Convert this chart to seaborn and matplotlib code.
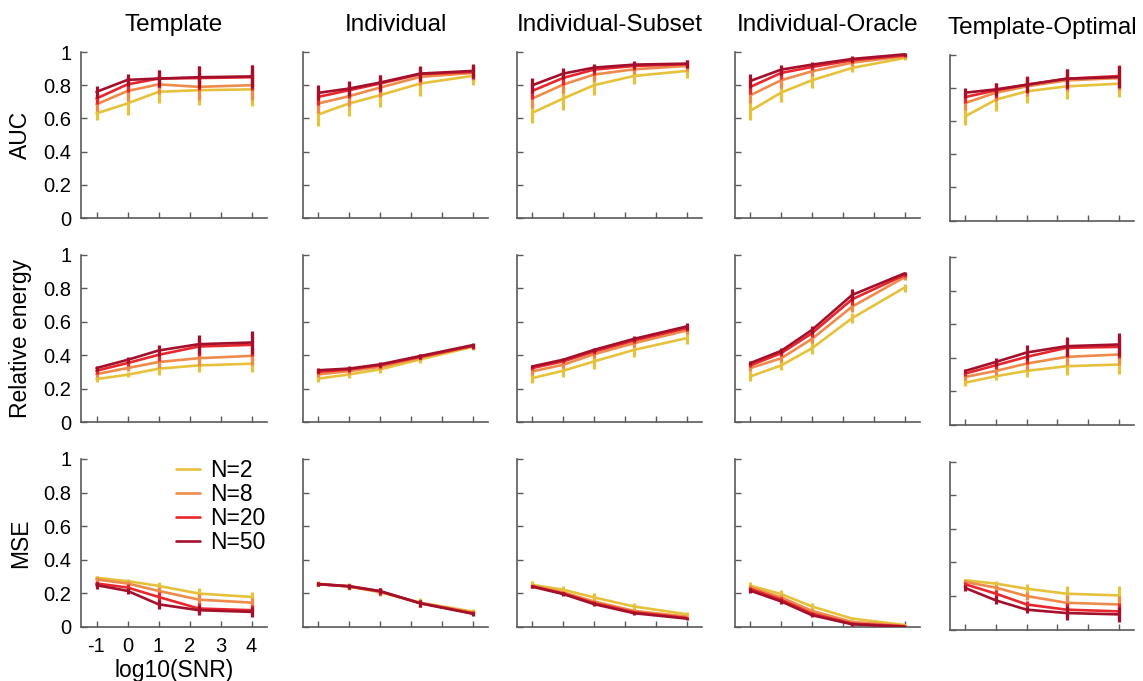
import matplotlib
matplotlib.use("Agg")
import matplotlib.pyplot as plt
import numpy as np
import pandas as pd
import seaborn as sns

# ---------------- data ----------------
SNR_LOG = [-1, 0, 1, 2.3, 4]
N_LABELS = ["N=2", "N=8", "N=20", "N=50"]
METHODS = ["Template", "Individual", "Individual-Subset", "Individual-Oracle", "Template-Optimal"]
METRICS = ["AUC", "Relative energy", "MSE"]
X_TICKS = [-1, 0, 1, 2, 3, 4]
Y_TICKS = [0, 0.2, 0.4, 0.6, 0.8, 1]
Y_TICK_LABELS = ["0", "0.2", "0.4", "0.6", "0.8", "1"]
COLORS = ["#E6C23C", "#EE8A4A", "#E8262E", "#A3102C"]

# AUC  (rows: N=2, N=8, N=20, N=50)
AUC_TEMPLATE = [[0.630, 0.690, 0.760, 0.770, 0.775],
                [0.685, 0.765, 0.805, 0.790, 0.800],
                [0.720, 0.805, 0.840, 0.843, 0.848],
                [0.760, 0.832, 0.840, 0.848, 0.853]]
AUC_TEMPLATE_ERR = [[0.040, 0.070, 0.070, 0.090, 0.100],
                    [0.040, 0.060, 0.060, 0.080, 0.090],
                    [0.035, 0.045, 0.050, 0.070, 0.075],
                    [0.035, 0.035, 0.050, 0.065, 0.070]]
AUC_INDIV = [[0.624, 0.690, 0.740, 0.810, 0.856],
             [0.690, 0.734, 0.786, 0.850, 0.874],
             [0.730, 0.770, 0.810, 0.866, 0.880],
             [0.754, 0.780, 0.816, 0.870, 0.886]]
AUC_INDIV_ERR = [[0.068, 0.076, 0.070, 0.074, 0.052],
                 [0.060, 0.060, 0.060, 0.050, 0.045],
                 [0.050, 0.050, 0.050, 0.045, 0.042],
                 [0.046, 0.044, 0.048, 0.046, 0.042]]
AUC_SUBSET = [[0.634, 0.720, 0.800, 0.856, 0.886],
              [0.720, 0.804, 0.864, 0.896, 0.916],
              [0.766, 0.844, 0.894, 0.916, 0.926],
              [0.800, 0.870, 0.906, 0.924, 0.930]]
AUC_SUBSET_ERR = [[0.064, 0.070, 0.060, 0.050, 0.040],
                  [0.055, 0.050, 0.040, 0.030, 0.030],
                  [0.050, 0.040, 0.030, 0.025, 0.025],
                  [0.044, 0.034, 0.024, 0.022, 0.024]]
AUC_ORACLE = [[0.646, 0.756, 0.830, 0.904, 0.964],
              [0.740, 0.830, 0.884, 0.936, 0.974],
              [0.790, 0.874, 0.910, 0.950, 0.980],
              [0.826, 0.894, 0.924, 0.958, 0.986]]
AUC_ORACLE_ERR = [[0.056, 0.060, 0.044, 0.024, 0.010],
                  [0.050, 0.045, 0.030, 0.020, 0.010],
                  [0.045, 0.035, 0.020, 0.018, 0.010],
                  [0.040, 0.030, 0.016, 0.018, 0.010]]
AUC_OPTIMAL = [[0.628, 0.728, 0.778, 0.808, 0.824],
               [0.708, 0.770, 0.808, 0.844, 0.858],
               [0.744, 0.784, 0.818, 0.854, 0.870],
               [0.770, 0.790, 0.818, 0.854, 0.864]]
AUC_OPTIMAL_ERR = [[0.050, 0.068, 0.070, 0.078, 0.080],
                   [0.040, 0.050, 0.055, 0.065, 0.070],
                   [0.035, 0.045, 0.050, 0.060, 0.068],
                   [0.030, 0.040, 0.046, 0.056, 0.064]]

# Relative energy
RE_TEMPLATE = [[0.257, 0.283, 0.319, 0.339, 0.349],
               [0.287, 0.323, 0.359, 0.382, 0.396],
               [0.307, 0.353, 0.402, 0.452, 0.462],
               [0.323, 0.372, 0.428, 0.466, 0.476]]
RE_TEMPLATE_ERR = [[0.020, 0.016, 0.035, 0.040, 0.050],
                   [0.020, 0.020, 0.035, 0.045, 0.055],
                   [0.018, 0.020, 0.035, 0.055, 0.065],
                   [0.015, 0.020, 0.035, 0.056, 0.066]]
RE_INDIV = [[0.260, 0.285, 0.315, 0.375, 0.450],
            [0.285, 0.305, 0.330, 0.385, 0.455],
            [0.300, 0.315, 0.340, 0.390, 0.455],
            [0.310, 0.320, 0.345, 0.395, 0.460]]
RE_INDIV_ERR = [[0.020, 0.020, 0.020, 0.020, 0.020],
                [0.015, 0.015, 0.015, 0.015, 0.015],
                [0.015, 0.015, 0.015, 0.015, 0.015],
                [0.015, 0.015, 0.015, 0.015, 0.015]]
RE_SUBSET = [[0.263, 0.307, 0.363, 0.432, 0.502],
             [0.303, 0.343, 0.406, 0.472, 0.548],
             [0.323, 0.363, 0.422, 0.488, 0.562],
             [0.333, 0.373, 0.432, 0.498, 0.572]]
RE_SUBSET_ERR = [[0.030, 0.038, 0.046, 0.044, 0.036],
                 [0.020, 0.020, 0.020, 0.020, 0.020],
                 [0.012, 0.012, 0.012, 0.016, 0.020],
                 [0.010, 0.010, 0.010, 0.014, 0.020]]
RE_ORACLE = [[0.273, 0.339, 0.442, 0.622, 0.805],
             [0.323, 0.382, 0.498, 0.691, 0.867],
             [0.339, 0.412, 0.532, 0.735, 0.880],
             [0.353, 0.426, 0.552, 0.761, 0.890]]
RE_ORACLE_ERR = [[0.030, 0.030, 0.036, 0.030, 0.024],
                 [0.020, 0.020, 0.025, 0.030, 0.015],
                 [0.012, 0.016, 0.024, 0.035, 0.012],
                 [0.010, 0.016, 0.024, 0.036, 0.010]]
RE_OPTIMAL = [[0.251, 0.289, 0.321, 0.349, 0.359],
              [0.285, 0.321, 0.365, 0.405, 0.419],
              [0.305, 0.355, 0.405, 0.459, 0.465],
              [0.321, 0.375, 0.431, 0.469, 0.479]]
RE_OPTIMAL_ERR = [[0.020, 0.024, 0.036, 0.050, 0.058],
                  [0.018, 0.025, 0.040, 0.050, 0.060],
                  [0.015, 0.025, 0.042, 0.055, 0.065],
                  [0.014, 0.026, 0.044, 0.056, 0.066]]

# MSE
MSE_TEMPLATE = [[0.293, 0.273, 0.245, 0.199, 0.179],
                [0.283, 0.259, 0.215, 0.163, 0.145],
                [0.259, 0.235, 0.179, 0.110, 0.100],
                [0.249, 0.215, 0.135, 0.100, 0.090]]
MSE_TEMPLATE_ERR = [[0.012, 0.012, 0.024, 0.034, 0.030],
                    [0.012, 0.015, 0.025, 0.032, 0.030],
                    [0.015, 0.018, 0.028, 0.030, 0.030],
                    [0.020, 0.020, 0.026, 0.030, 0.030]]
MSE_INDIV = [[0.257, 0.240, 0.207, 0.145, 0.092],
             [0.256, 0.241, 0.210, 0.143, 0.086],
             [0.255, 0.242, 0.212, 0.142, 0.082],
             [0.255, 0.243, 0.214, 0.141, 0.079]]
MSE_INDIV_ERR = [[0.015, 0.020, 0.025, 0.025, 0.015],
                 [0.012, 0.015, 0.020, 0.020, 0.012],
                 [0.012, 0.015, 0.020, 0.020, 0.012],
                 [0.012, 0.015, 0.020, 0.020, 0.012]]
MSE_SUBSET = [[0.251, 0.222, 0.176, 0.122, 0.076],
              [0.246, 0.206, 0.152, 0.096, 0.062],
              [0.242, 0.200, 0.142, 0.088, 0.054],
              [0.240, 0.196, 0.136, 0.082, 0.050]]
MSE_SUBSET_ERR = [[0.020, 0.025, 0.025, 0.020, 0.012],
                  [0.010, 0.010, 0.010, 0.008, 0.006],
                  [0.010, 0.010, 0.010, 0.008, 0.006],
                  [0.010, 0.010, 0.010, 0.008, 0.006]]
MSE_ORACLE = [[0.246, 0.196, 0.122, 0.050, 0.012],
              [0.236, 0.176, 0.096, 0.030, 0.006],
              [0.226, 0.162, 0.080, 0.020, 0.004],
              [0.216, 0.152, 0.070, 0.016, 0.002]]
MSE_ORACLE_ERR = [[0.024, 0.026, 0.020, 0.010, 0.006],
                  [0.015, 0.015, 0.012, 0.008, 0.004],
                  [0.015, 0.015, 0.012, 0.008, 0.004],
                  [0.015, 0.015, 0.012, 0.008, 0.004]]
MSE_OPTIMAL = [[0.293, 0.273, 0.243, 0.213, 0.203],
               [0.283, 0.249, 0.199, 0.159, 0.149],
               [0.269, 0.213, 0.149, 0.118, 0.108],
               [0.247, 0.173, 0.118, 0.098, 0.090]]
MSE_OPTIMAL_ERR = [[0.010, 0.016, 0.026, 0.046, 0.056],
                   [0.012, 0.018, 0.025, 0.045, 0.050],
                   [0.015, 0.022, 0.022, 0.042, 0.048],
                   [0.018, 0.024, 0.018, 0.040, 0.046]]

GRID_VALUES = [[AUC_TEMPLATE, AUC_INDIV, AUC_SUBSET, AUC_ORACLE, AUC_OPTIMAL],
               [RE_TEMPLATE, RE_INDIV, RE_SUBSET, RE_ORACLE, RE_OPTIMAL],
               [MSE_TEMPLATE, MSE_INDIV, MSE_SUBSET, MSE_ORACLE, MSE_OPTIMAL]]
GRID_ERRORS = [[AUC_TEMPLATE_ERR, AUC_INDIV_ERR, AUC_SUBSET_ERR, AUC_ORACLE_ERR, AUC_OPTIMAL_ERR],
               [RE_TEMPLATE_ERR, RE_INDIV_ERR, RE_SUBSET_ERR, RE_ORACLE_ERR, RE_OPTIMAL_ERR],
               [MSE_TEMPLATE_ERR, MSE_INDIV_ERR, MSE_SUBSET_ERR, MSE_ORACLE_ERR, MSE_OPTIMAL_ERR]]

# ---------------- style ----------------
sns.set_style("ticks")
plt.rcParams["font.family"] = ["Liberation Sans", "DejaVu Sans"]
plt.rcParams["text.color"] = "black"
plt.rcParams["axes.labelcolor"] = "black"
AXIS_GRAY = "#5a5a5a"

W, H = 1143, 681
fig = plt.figure(figsize=(W / 100, H / 100), dpi=100)

# axes placement in pixels (left, right) per column, (top, bottom) per row
COL_PX = [(81, 267), (303, 488), (517, 702), (735, 920), (950, 1134)]
ROW_PX = [(52, 218), (255, 422), (459, 627)]
COL_DY = [0, 0, 0, 0, 2.5]

for r in range(3):
    for c in range(5):
        x0, x1 = COL_PX[c]
        t, b = ROW_PX[r]
        t += COL_DY[c]
        b += COL_DY[c]
        ax = fig.add_axes([x0 / W, 1 - b / H, (x1 - x0) / W, (b - t) / H])
        vals = GRID_VALUES[r][c]
        errs = GRID_ERRORS[r][c]
        for i, lab in enumerate(N_LABELS):
            df = pd.DataFrame({"snr": SNR_LOG, "value": vals[i]})
            sns.lineplot(data=df, x="snr", y="value", color=COLORS[i], lw=1.9,
                         ax=ax, label=lab, zorder=3 + i)
            ax.errorbar(SNR_LOG, vals[i], yerr=errs[i], fmt="none",
                        ecolor=COLORS[i], elinewidth=2.3, capsize=0, zorder=3 + i)
        ax.set_xlim(-1.5, 4.5)
        ax.set_ylim(0, 1)
        ax.set_xticks(X_TICKS)
        ax.set_yticks(Y_TICKS)
        for side in ["top", "right"]:
            ax.spines[side].set_visible(False)
        for side in ["left", "bottom"]:
            ax.spines[side].set_color(AXIS_GRAY)
            ax.spines[side].set_linewidth(1.2)
        ax.tick_params(direction="in", length=4, width=1.0, color=AXIS_GRAY,
                       labelsize=14.5, pad=7, labelcolor="black",
                       bottom=True, left=True, top=False, right=False)
        ax.set_xlabel("")
        ax.set_ylabel("")
        if c == 0:
            ax.set_yticklabels(Y_TICK_LABELS)
            ax.set_ylabel(METRICS[r], fontsize=16.5, labelpad=8)
        else:
            ax.set_yticklabels([])
        if r == 2 and c == 0:
            ax.set_xticklabels([str(v) for v in X_TICKS])
            ax.set_xlabel("log10(SNR)", fontsize=16.5, labelpad=2)
            ax.legend(loc="upper left", bbox_to_anchor=(0.51, 1.0), frameon=False,
                      fontsize=16.5, handlelength=1.05, handletextpad=0.45,
                      labelspacing=0.05, borderpad=0, borderaxespad=0)
        else:
            ax.set_xticklabels([])
            leg = ax.get_legend()
            if leg is not None:
                leg.remove()
        if r == 0:
            ax.set_title(METHODS[c], fontsize=17.5, pad=15, color="black")

fig.savefig("out.png", dpi=100)
